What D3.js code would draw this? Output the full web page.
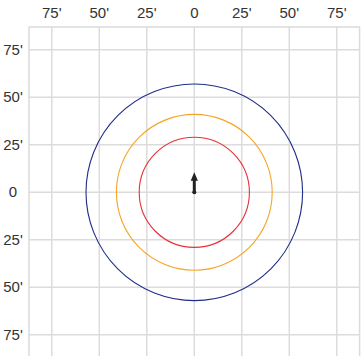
<!DOCTYPE html>
<html>
<head>
<meta charset="utf-8">
<script src="https://cdn.jsdelivr.net/npm/d3@7"></script>
<style>
  body { margin: 0; background: #fff; }
  text { font-family: Arial, "Liberation Sans", sans-serif; font-size: 15px; fill: #333; }
</style>
</head>
<body>
<script>
'use strict';

// tick values (feet) and their labels
const tickValues = [-75, -50, -25, 0, 25, 50, 75];
const tickLabels = ["75'", "50'", "25'", "0", "25'", "50'", "75'"];

// range rings (feet)
const ringRadii = [57, 41, 29];
const ringColors = ["#1f2d8a", "#f5a524", "#e8303a"];

// heading arrow: length in feet, pointing north
const arrowLength = [10.5];

(function() {
  const W = 361, H = 356;
  const left = 29, top = 27;
  const span = 87; // half-width of the plot domain in feet
  const size = span * 2 * 1.9;

  const svg = d3.select('body').append('svg')
    .attr('width', W)
    .attr('height', H);

  const xScale = d3.scaleLinear().domain([-span, span]).range([left, left + size]);
  const yScale = d3.scaleLinear().domain([span, -span]).range([top, top + size]);

  // grid lines
  const grid = svg.append('g').attr('stroke', '#dcdcdc').attr('stroke-width', 1.5);
  grid.selectAll('.vx').data(tickValues).enter().append('line')
    .attr('x1', d => xScale(d)).attr('x2', d => xScale(d))
    .attr('y1', top).attr('y2', top + size);
  grid.selectAll('.hy').data(tickValues).enter().append('line')
    .attr('y1', d => yScale(d)).attr('y2', d => yScale(d))
    .attr('x1', left).attr('x2', left + size);

  // border
  svg.append('rect')
    .attr('x', left).attr('y', top)
    .attr('width', size).attr('height', size)
    .attr('fill', 'none')
    .attr('stroke', '#dcdcdc')
    .attr('stroke-width', 1.5);

  // axis labels
  svg.selectAll('.xl').data(tickValues).enter().append('text')
    .attr('x', d => xScale(d))
    .attr('y', 18)
    .attr('text-anchor', 'middle')
    .text((d, i) => tickLabels[i]);

  svg.selectAll('.yl').data(tickValues).enter().append('text')
    .attr('x', 13)
    .attr('y', d => yScale(d) + 5)
    .attr('text-anchor', 'middle')
    .text((d, i) => tickLabels[i]);

  // rings
  const px = d => xScale(d) - xScale(0);
  svg.selectAll('.ring').data(ringRadii).enter().append('circle')
    .attr('cx', xScale(0))
    .attr('cy', yScale(0))
    .attr('r', d => px(d))
    .attr('fill', 'none')
    .attr('stroke', (d, i) => ringColors[i])
    .attr('stroke-width', 1.1);

  // arrow: shaft + triangular head
  const cx = xScale(0), cy = yScale(0);
  const arrow = svg.selectAll('.arrow').data(arrowLength).enter().append('g');
  arrow.append('line')
    .attr('x1', cx).attr('y1', cy)
    .attr('x2', cx).attr('y2', d => yScale(d) + 7)
    .attr('stroke', '#222')
    .attr('stroke-width', 3)
    .attr('stroke-linecap', 'round');
  arrow.append('path')
    .attr('d', d => {
      const tip = yScale(d);
      return 'M' + cx + ',' + tip + ' L' + (cx + 3.6) + ',' + (tip + 8.5) +
        ' L' + (cx - 3.6) + ',' + (tip + 8.5) + ' Z';
    })
    .attr('fill', '#222');

  svg.append('circle')
    .attr('cx', cx).attr('cy', cy)
    .attr('r', 2).attr('fill', '#222');
})();
</script>
</body>
</html>
